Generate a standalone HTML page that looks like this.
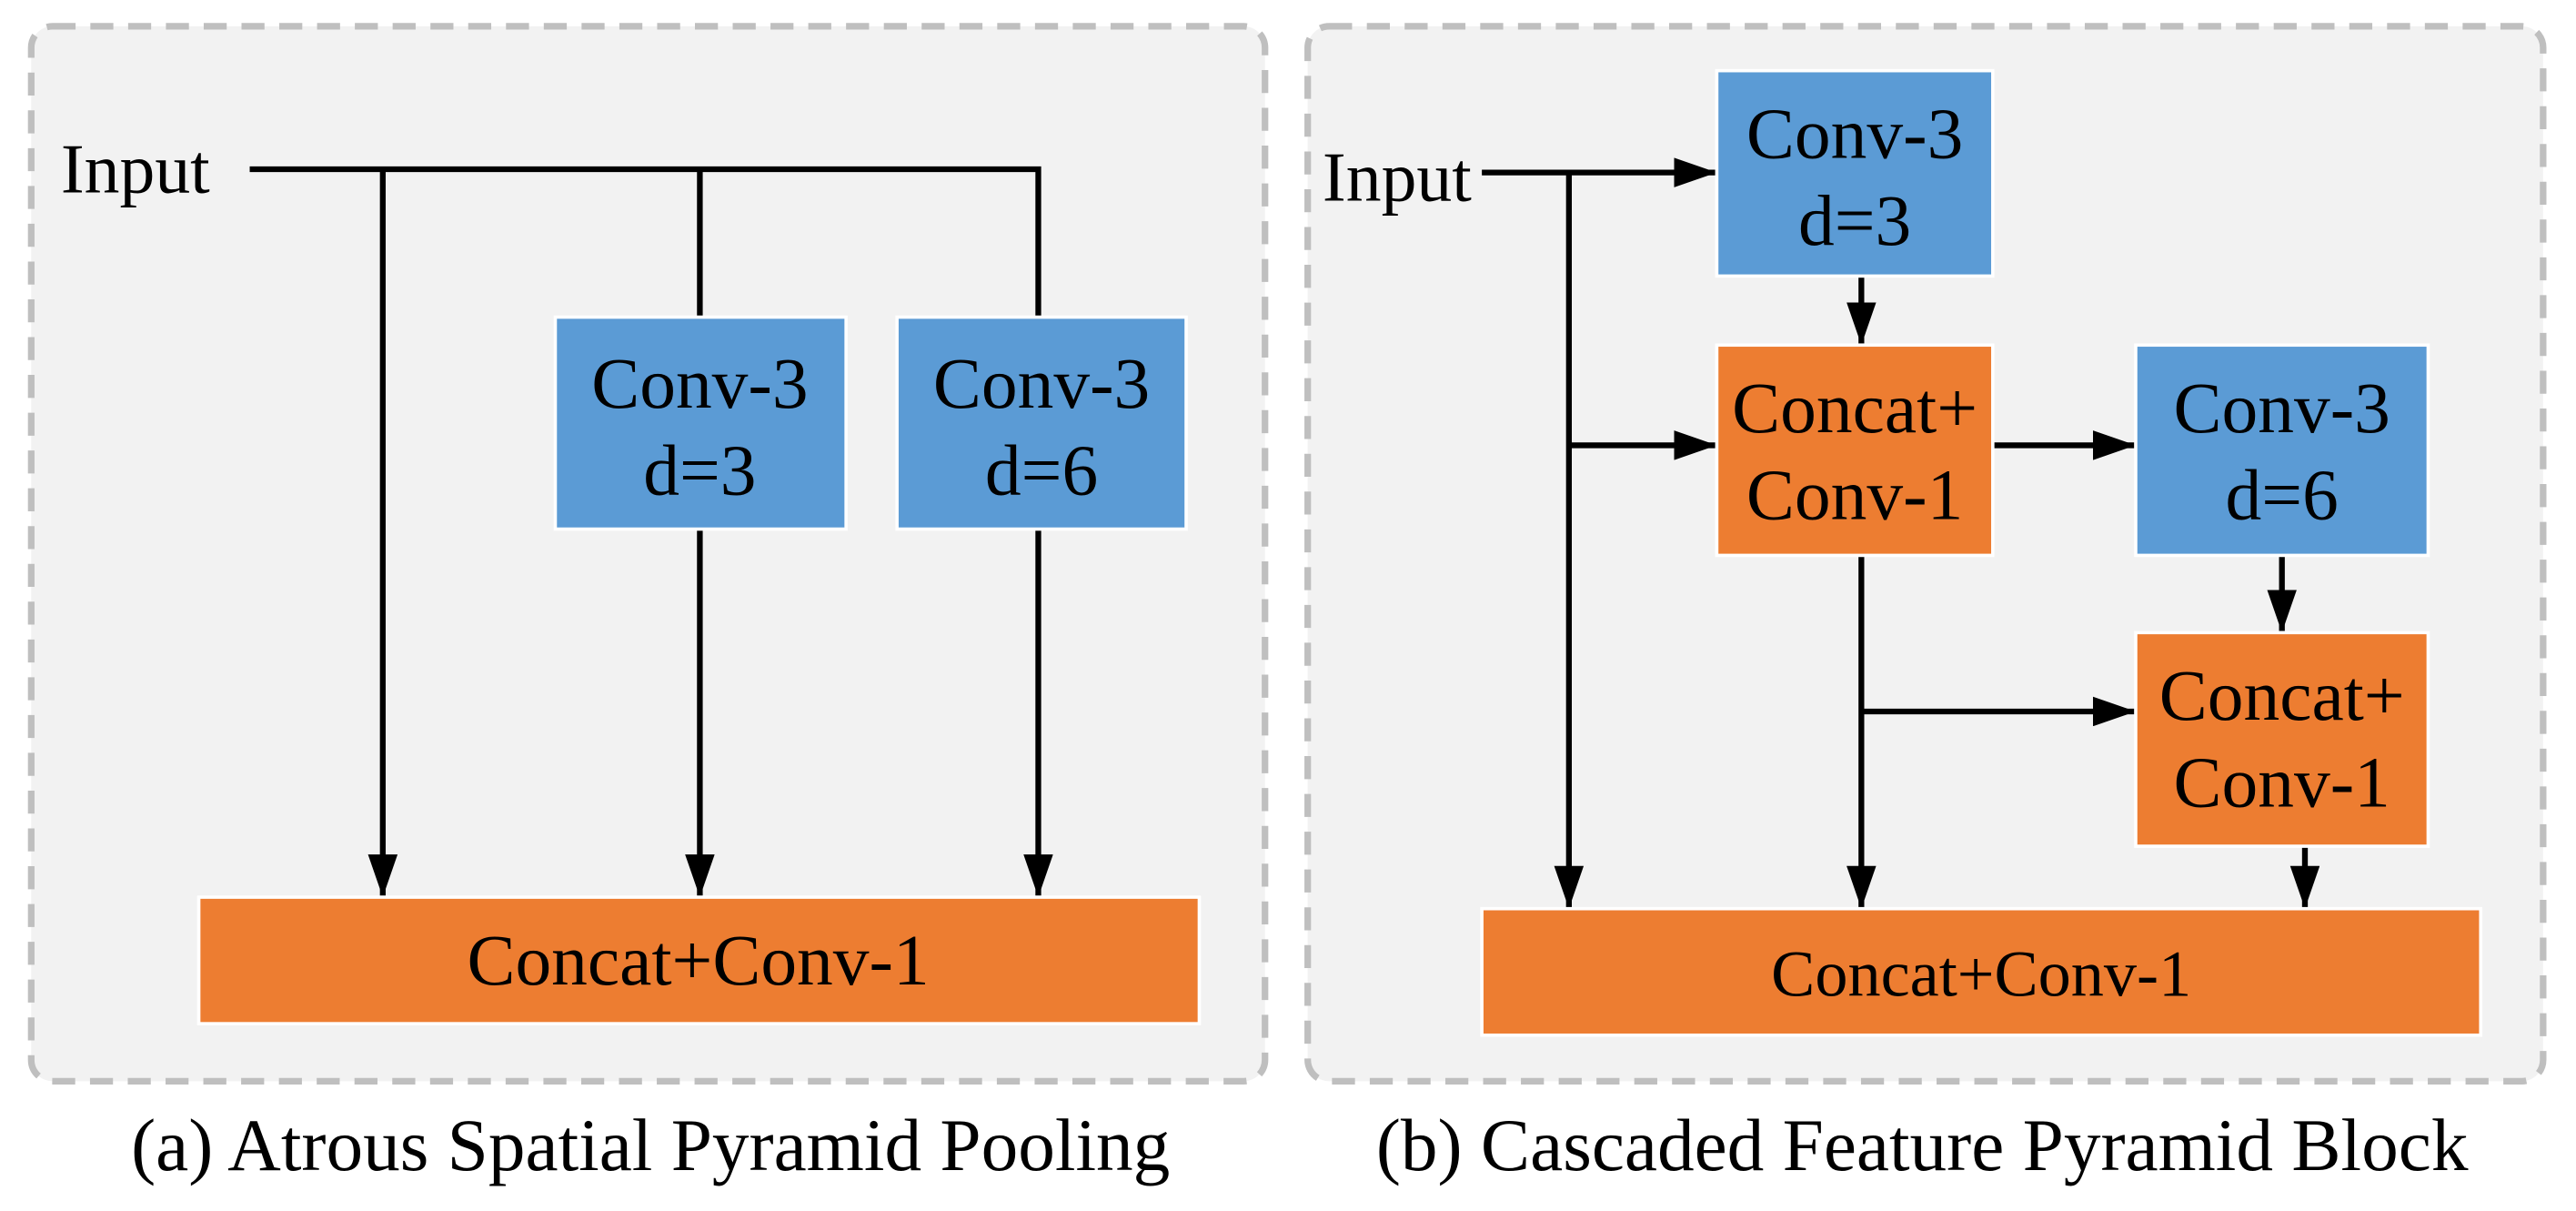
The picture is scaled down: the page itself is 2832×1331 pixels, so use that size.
<!DOCTYPE html>
<html><head><meta charset="utf-8">
<style>
html,body{margin:0;padding:0;background:#fff;}
svg{display:block;}
text{font-family:"Liberation Serif",serif;fill:#000;}
</style></head>
<body>
<svg width="2832" height="1331" viewBox="0 0 1568 737" xmlns="http://www.w3.org/2000/svg" preserveAspectRatio="none">
<defs>
<marker id="a" viewBox="0 0 26 18" refX="26" refY="9" markerWidth="26" markerHeight="18" orient="auto" markerUnits="userSpaceOnUse">
<path d="M0,0 L26,9 L0,18 z" fill="#000"/>
</marker>
</defs>
<rect x="19" y="16" width="751" height="642" rx="13" fill="#f2f2f2" stroke="#bfbfbf" stroke-width="4" stroke-dasharray="14,9"/>
<rect x="796" y="16" width="752" height="642" rx="13" fill="#f2f2f2" stroke="#bfbfbf" stroke-width="4" stroke-dasharray="14,9"/>

<g stroke="#000" stroke-width="3.5" fill="none">
<polyline points="152,103 632,103 632,194"/>
<line x1="426" y1="103" x2="426" y2="194"/>
<line x1="233" y1="103" x2="233" y2="546" marker-end="url(#a)"/>
<line x1="426" y1="322" x2="426" y2="546" marker-end="url(#a)"/>
<line x1="632" y1="322" x2="632" y2="546" marker-end="url(#a)"/>
<line x1="902" y1="105" x2="1045" y2="105" marker-end="url(#a)"/>
<line x1="955" y1="105" x2="955" y2="553" marker-end="url(#a)"/>
<line x1="955" y1="271" x2="1045" y2="271" marker-end="url(#a)"/>
<line x1="1133" y1="168" x2="1133" y2="210" marker-end="url(#a)"/>
<line x1="1213" y1="271" x2="1300" y2="271" marker-end="url(#a)"/>
<line x1="1389" y1="338" x2="1389" y2="385" marker-end="url(#a)"/>
<line x1="1133" y1="338" x2="1133" y2="553" marker-end="url(#a)"/>
<line x1="1133" y1="433" x2="1300" y2="433" marker-end="url(#a)"/>
<line x1="1403" y1="515" x2="1403" y2="553" marker-end="url(#a)"/>
</g>

<g stroke="#fff" stroke-width="2">
<rect x="338" y="193" width="177" height="129" fill="#5b9bd5"/>
<rect x="546" y="193" width="176" height="129" fill="#5b9bd5"/>
<rect x="121" y="546" width="609" height="77" fill="#ed7d31"/>
<rect x="1045" y="43" width="168" height="125" fill="#5b9bd5"/>
<rect x="1045" y="210" width="168" height="128" fill="#ed7d31"/>
<rect x="1300" y="210" width="178" height="128" fill="#5b9bd5"/>
<rect x="1300" y="385" width="178" height="130" fill="#ed7d31"/>
<rect x="902" y="553" width="608" height="77" fill="#ed7d31"/>
</g>

<g font-size="44" text-anchor="middle">
<text x="37" y="117" text-anchor="start" font-size="43">Input</text>
<text x="426" y="248">Conv-3</text><text x="426" y="301">d=3</text>
<text x="634" y="248">Conv-3</text><text x="634" y="301">d=6</text>
<text x="425" y="599">Concat+Conv-1</text>
<text x="805" y="122" text-anchor="start" font-size="43">Input</text>
<text x="1129" y="96">Conv-3</text><text x="1129" y="149">d=3</text>
<text x="1129" y="263">Concat+</text><text x="1129" y="316">Conv-1</text>
<text x="1389" y="263">Conv-3</text><text x="1389" y="316">d=6</text>
<text x="1389" y="438">Concat+</text><text x="1389" y="491">Conv-1</text>
<text x="1206" y="606" font-size="40">Concat+Conv-1</text>
<text x="396" y="712" font-size="45">(a) Atrous Spatial Pyramid Pooling</text>
<text x="1170" y="712" font-size="45">(b) Cascaded Feature Pyramid Block</text>
</g>
</svg>
</body></html>
